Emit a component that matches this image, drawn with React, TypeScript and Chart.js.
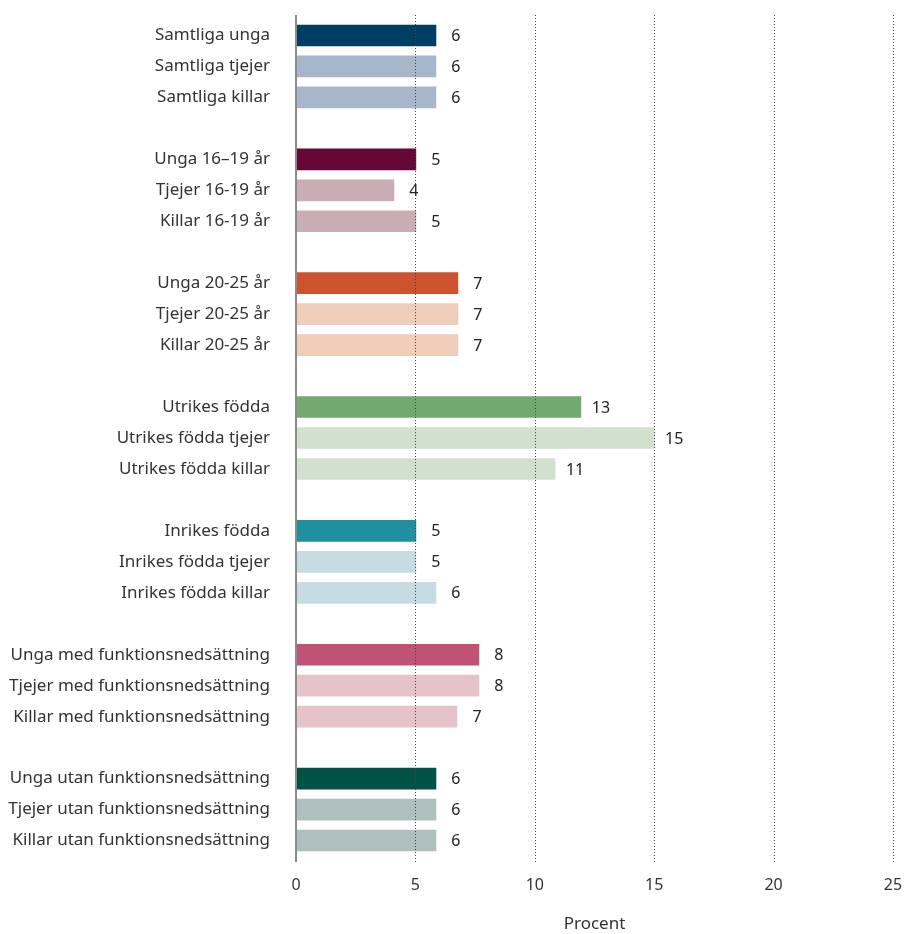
import React, { useEffect, useRef } from "react";
import { Chart, registerables } from "chart.js";

Chart.register(...registerables);

const categories: string[] = [
  "Samtliga unga", "Samtliga tjejer", "Samtliga killar", "",
  "Unga 16–19 år", "Tjejer 16-19 år", "Killar 16-19 år", "",
  "Unga 20-25 år", "Tjejer 20-25 år", "Killar 20-25 år", "",
  "Utrikes födda", "Utrikes födda tjejer", "Utrikes födda killar", "",
  "Inrikes födda", "Inrikes födda tjejer", "Inrikes födda killar", "",
  "Unga med funktionsnedsättning", "Tjejer med funktionsnedsättning", "Killar med funktionsnedsättning", "",
  "Unga utan funktionsnedsättning", "Tjejer utan funktionsnedsättning", "Killar utan funktionsnedsättning",
];

const values: (number | null)[] = [
  5.86, 5.86, 5.86, null,
  5.02, 4.1, 5.02, null,
  6.78, 6.78, 6.78, null,
  11.93, 15.0, 10.85, null,
  5.02, 5.02, 5.86, null,
  7.66, 7.66, 6.74, null,
  5.86, 5.86, 5.86,
];

const valueLabels: string[] = [
  "6", "6", "6", "",
  "5", "4", "5", "",
  "7", "7", "7", "",
  "13", "15", "11", "",
  "5", "5", "6", "",
  "8", "8", "7", "",
  "6", "6", "6",
];

const barColors: string[] = [
  "#003f63", "#a7b6ca", "#a7b6ca", "#ffffff",
  "#650838", "#c9adb5", "#c9adb5", "#ffffff",
  "#cc532e", "#efcdb9", "#efcdb9", "#ffffff",
  "#71a96e", "#d1e1cd", "#d1e1cd", "#ffffff",
  "#1f8fa1", "#c6dce2", "#c6dce2", "#ffffff",
  "#c05276", "#e6c3ca", "#e6c3ca", "#ffffff",
  "#005244", "#adc0bd", "#adc0bd",
];

const xTicks: number[] = [0, 5, 10, 15, 20, 25];

const FONT = "'Noto Sans', sans-serif";

const gridPlugin = {
  id: "extendedGrid",
  afterDatasetsDraw(chart: any) {
    const ctx = chart.ctx;
    const xs = chart.scales.x;
    const { top, bottom } = chart.chartArea;
    ctx.save();
    ctx.strokeStyle = "#444444";
    ctx.lineWidth = 1;
    ctx.setLineDash([1, 2]);
    xTicks.forEach((v) => {
      if (v === 0) return;
      const px = Math.round(xs.getPixelForValue(v)) + 0.5;
      ctx.beginPath();
      ctx.moveTo(px, top - 5);
      ctx.lineTo(px, bottom + 6);
      ctx.stroke();
    });
    ctx.setLineDash([]);
    const px0 = xs.getPixelForValue(0);
    ctx.strokeStyle = "#8a8a8a";
    ctx.lineWidth = 2;
    ctx.beginPath();
    ctx.moveTo(px0, top - 5);
    ctx.lineTo(px0, bottom + 6);
    ctx.stroke();
    ctx.restore();
  },
};

const valueLabelPlugin = {
  id: "valueLabels",
  afterDatasetsDraw(chart: any) {
    const ctx = chart.ctx;
    const meta = chart.getDatasetMeta(0);
    ctx.save();
    ctx.font = `16px ${FONT}`;
    ctx.fillStyle = "#222222";
    ctx.textAlign = "center";
    ctx.textBaseline = "middle";
    meta.data.forEach((bar: any, i: number) => {
      const lbl = valueLabels[i];
      if (!lbl || values[i] == null) return;
      ctx.fillText(lbl, bar.x + 20, bar.y + 1);
    });
    ctx.restore();
  },
};

export default function App() {
  const canvasRef = useRef<HTMLCanvasElement | null>(null);

  useEffect(() => {
    if (!canvasRef.current) return;
    const chart = new Chart(canvasRef.current, {
      type: "bar",
      data: {
        labels: categories,
        datasets: [
          {
            data: values,
            backgroundColor: barColors,
            borderWidth: 0,
            barThickness: 21,
          },
        ],
      },
      options: {
        indexAxis: "y",
        animation: false,
        responsive: false,
        maintainAspectRatio: false,
        layout: { padding: { top: 20, right: 11, bottom: 0, left: 0 } },
        plugins: {
          legend: { display: false },
          tooltip: { enabled: false },
        },
        scales: {
          x: {
            type: "linear",
            min: 0,
            max: 25,
            afterBuildTicks: (scale: any) => {
              scale.ticks = xTicks.map((v) => ({ value: v }));
            },
            afterFit: (scale: any) => {
              scale.paddingLeft = 0;
              scale.paddingRight = 0;
              scale.height = 78;
            },
            ticks: {
              padding: 20,
              color: "#333333",
              font: { family: FONT, size: 16 },
            },
            grid: { display: false, drawTicks: false },
            border: { display: false },
            title: {
              display: true,
              text: "Procent",
              color: "#333333",
              font: { family: FONT, size: 17 },
              padding: { top: 21, bottom: 0 },
            },
          },
          y: {
            type: "category",
            afterFit: (scale: any) => {
              scale.width = 296;
              scale.paddingTop = 0;
              scale.paddingBottom = 0;
            },
            ticks: {
              autoSkip: false,
              padding: 26,
              color: "#333333",
              font: { family: FONT, size: 17 },
            },
            grid: { display: false, drawTicks: false },
            border: { display: false },
          },
        },
      },
      plugins: [gridPlugin, valueLabelPlugin],
    } as any);
    return () => chart.destroy();
  }, []);

  return (
    <div style={{ position: "absolute", left: 0, top: 0, width: 904, height: 934 }}>
      <canvas ref={canvasRef} width={904} height={934} style={{ width: 904, height: 934 }} />
    </div>
  );
}
